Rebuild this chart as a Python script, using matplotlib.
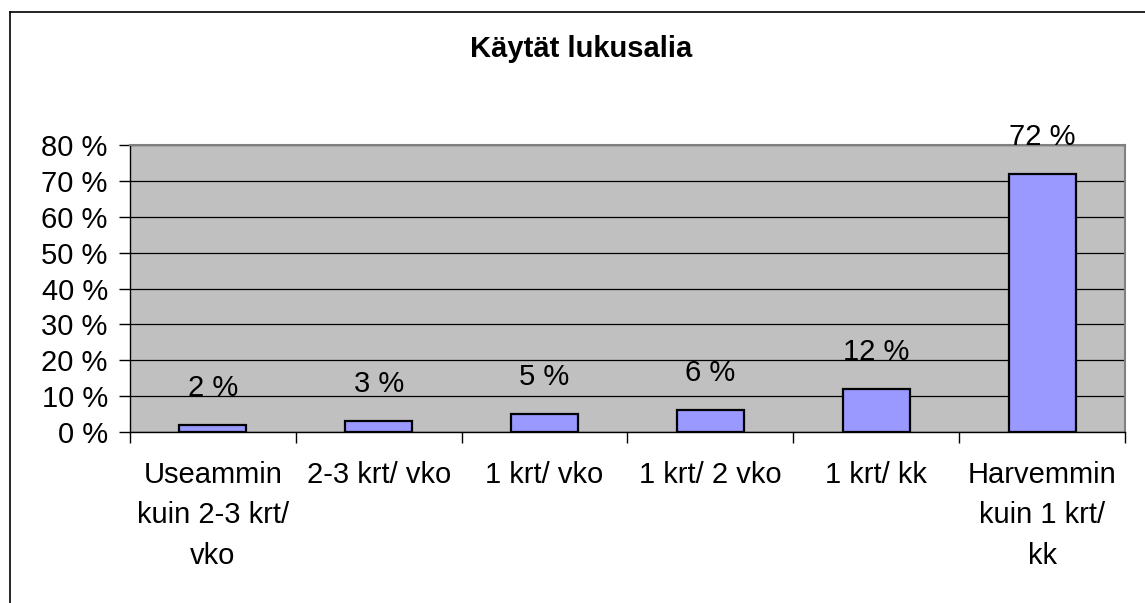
import numpy as np
import matplotlib.pyplot as plt
from matplotlib.lines import Line2D
from matplotlib.ticker import FuncFormatter

plt.rcParams['font.family'] = ['Liberation Sans', 'DejaVu Sans']

title = "Käytät lukusalia"
categories = ["Useammin\nkuin 2-3 krt/\nvko", "2-3 krt/ vko", "1 krt/ vko",
              "1 krt/ 2 vko", "1 krt/ kk", "Harvemmin\nkuin 1 krt/\nkk"]
values = [2, 3, 5, 6, 12, 72]
yticks = [0, 10, 20, 30, 40, 50, 60, 70, 80]

W, H = 1145, 603
fs = 21
fig = plt.figure(figsize=(W / 100, H / 100), dpi=100)
ax = fig.add_axes([130 / W, 1 - 432 / H, 995 / W, 287 / H])
ax.set_facecolor("#c0c0c0")

x = np.arange(len(values))
ax.bar(x, values, width=0.405, color="#9999ff", edgecolor="black",
       linewidth=1.6, zorder=3)
for xi, v in zip(x, values):
    ax.annotate(f"{v} %", (xi, v), xytext=(0, 21), textcoords="offset points",
                ha="center", va="baseline", fontsize=fs)

ax.set_xlim(-0.5, len(values) - 0.5)
ax.set_ylim(0, 80)
ax.set_yticks(yticks)
ax.yaxis.set_major_formatter(FuncFormatter(lambda v, p: f"{int(v)} %"))
ax.grid(axis="y", color="black", linewidth=0.9, zorder=1)
ax.set_axisbelow(True)

ax.set_xticks(x)
ax.set_xticklabels(categories, linespacing=1.56)
ax.set_xticks(np.arange(len(values) + 1) - 0.5, minor=True)
ax.tick_params(axis="x", which="major", length=0, pad=21, labelsize=fs)
ax.tick_params(axis="x", which="minor", length=8, width=1, color="black")
ax.tick_params(axis="y", length=8, width=1, pad=8, labelsize=fs)

for s in ["left", "bottom"]:
    ax.spines[s].set_color("black")
    ax.spines[s].set_linewidth(1)
for s in ["top", "right"]:
    ax.spines[s].set_color("#808080")
    ax.spines[s].set_linewidth(1.5)

fig.text(581 / W, 1 - 57 / H, title, ha="center", va="baseline",
         fontsize=fs, fontweight="bold")

# chart frame (only top and left edges are visible in the crop)
fig.add_artist(Line2D([9.5 / W, 9.5 / W], [0, 1 - 12 / H], color="black",
                      linewidth=1.2, transform=fig.transFigure))
fig.add_artist(Line2D([9.5 / W, 1], [1 - 12 / H, 1 - 12 / H], color="black",
                      linewidth=1.2, transform=fig.transFigure))

fig.savefig("out.png", dpi=100)
